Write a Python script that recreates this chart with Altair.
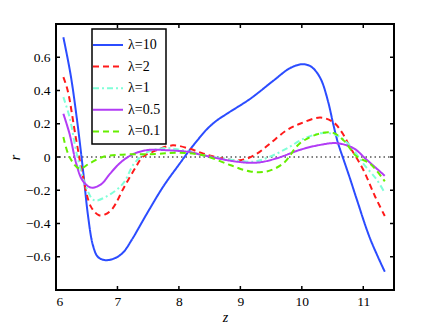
import altair as alt
import pandas as pd

series_names = ["λ=10", "λ=2", "λ=1", "λ=0.5", "λ=0.1"]
series_colors = ["#2b4cff", "#ff1a1a", "#7fffd8", "#b23cf5", "#66ee00"]
series_dash = [[1, 0], [6, 4], [6, 3, 2, 3], [1, 0], [6, 4]]

x_l10 = [6.12, 6.24, 6.35, 6.44, 6.52, 6.60, 6.68, 6.79, 6.95, 7.09, 7.23, 7.48, 7.75, 8.02, 8.13, 8.30, 8.45, 8.60, 8.78, 9.16, 9.54, 9.81, 10.00, 10.12, 10.22, 10.32, 10.43, 10.51, 10.59, 10.68, 10.78, 10.89, 11.11, 11.35]
y_l10 = [0.72, 0.49, 0.20, -0.08, -0.35, -0.53, -0.60, -0.62, -0.61, -0.575, -0.50, -0.34, -0.175, -0.036, 0.02, 0.10, 0.165, 0.215, 0.26, 0.35, 0.46, 0.535, 0.558, 0.55, 0.52, 0.46, 0.33, 0.20, 0.083, -0.016, -0.125, -0.25, -0.49, -0.69]

x_l2 = [6.12, 6.19, 6.33, 6.43, 6.57, 6.70, 6.80, 6.92, 7.11, 7.30, 7.41, 7.63, 7.90, 8.17, 8.40, 8.67, 9.02, 9.27, 9.48, 9.75, 9.97, 10.30, 10.51, 10.65, 10.78, 11.00, 11.19, 11.35]
y_l2 = [0.48, 0.40, 0.10, -0.10, -0.30, -0.35, -0.345, -0.31, -0.18, -0.06, 0.00, 0.04, 0.07, 0.05, 0.02, -0.006, -0.018, 0.02, 0.08, 0.16, 0.20, 0.237, 0.21, 0.15, 0.063, -0.077, -0.236, -0.355]

x_l1 = [6.12, 6.22, 6.35, 6.49, 6.62, 6.81, 7.09, 7.27, 7.46, 7.74, 8.00, 8.40, 8.67, 9.21, 9.48, 9.75, 10.03, 10.35, 10.57, 10.78, 11.00, 11.22, 11.35]
y_l1 = [0.36, 0.24, 0.00, -0.18, -0.26, -0.24, -0.16, -0.04, 0.024, 0.053, 0.045, 0.01, -0.006, -0.028, 0.002, 0.05, 0.11, 0.145, 0.13, 0.07, -0.04, -0.137, -0.216]

x_l05 = [6.12, 6.22, 6.33, 6.43, 6.57, 6.73, 6.88, 7.03, 7.17, 7.32, 7.52, 7.84, 8.17, 8.40, 8.94, 9.27, 9.59, 9.97, 10.30, 10.57, 10.84, 11.06, 11.35]
y_l05 = [0.26, 0.14, -0.04, -0.14, -0.184, -0.165, -0.10, -0.04, 0.00, 0.027, 0.043, 0.04, 0.03, 0.01, -0.028, -0.034, -0.008, 0.043, 0.073, 0.083, 0.053, -0.018, -0.113]

x_l01 = [6.12, 6.22, 6.38, 6.54, 6.76, 7.08, 7.63, 8.00, 8.40, 8.83, 9.16, 9.43, 9.70, 9.97, 10.30, 10.51, 10.68, 10.89, 11.11, 11.35]
y_l01 = [0.12, 0.00, -0.07, -0.04, 0.00, 0.014, 0.018, 0.026, 0.01, -0.048, -0.087, -0.087, -0.038, 0.083, 0.142, 0.145, 0.10, 0.004, -0.04, -0.147]

x_ticks = [6, 7, 8, 9, 10, 11]
y_ticks = [-0.6, -0.4, -0.2, 0, 0.2, 0.4, 0.6]

W, H = 338, 266
FONT = "Liberation Serif"

rows = []
for name, xs, ys in zip(series_names,
                        [x_l10, x_l2, x_l1, x_l05, x_l01],
                        [y_l10, y_l2, y_l1, y_l05, y_l01]):
    for i, (a, b) in enumerate(zip(xs, ys)):
        rows.append({"series": name, "z": a, "r": b, "i": i})
df = pd.DataFrame(rows)

xscale = alt.Scale(domain=[6, 11.5], nice=False, zero=False)
yscale = alt.Scale(domain=[-0.8, 0.8], nice=False, zero=False)

lines = alt.Chart(df).mark_line(strokeWidth=2, interpolate="catmull-rom", clip=True).encode(
    x=alt.X("z:Q", scale=xscale,
            axis=alt.Axis(values=x_ticks, tickSize=0, domain=False, grid=False,
                          labelPadding=4, title="z", titleFontStyle="italic",
                          titleFontWeight="normal", titlePadding=3, format="d")),
    y=alt.Y("r:Q", scale=yscale,
            axis=alt.Axis(values=y_ticks, tickSize=0, domain=False, grid=False,
                          labelPadding=6, title="r", titleFontStyle="italic",
                          titleFontWeight="normal", titlePadding=3,
                          labelExpr="datum.value == 0 ? '0' : replace(format(datum.value, '.1f'), '-', '\u2212')")),
    color=alt.Color("series:N", scale=alt.Scale(domain=series_names, range=series_colors),
                    sort=series_names, title=None),
    strokeDash=alt.StrokeDash("series:N", scale=alt.Scale(domain=series_names, range=series_dash),
                              sort=series_names, title=None),
    order="i:Q",
)

zero_df = pd.DataFrame({"r": [0]})
zero = alt.Chart(zero_df).mark_rule(color="black", strokeWidth=1.2, strokeDash=[1.5, 3]).encode(
    y=alt.Y("r:Q", scale=yscale)
)

xt = pd.DataFrame({"z": x_ticks})
yt = pd.DataFrame({"r": y_ticks})
tick_style = dict(color="black", strokeWidth=1.5)
xb = alt.Chart(xt).mark_rule(**tick_style).encode(x=alt.X("z:Q", scale=xscale), y=alt.value(H), y2=alt.value(H - 4))
xtop = alt.Chart(xt).mark_rule(**tick_style).encode(x=alt.X("z:Q", scale=xscale), y=alt.value(0), y2=alt.value(4))
yl = alt.Chart(yt).mark_rule(**tick_style).encode(y=alt.Y("r:Q", scale=yscale), x=alt.value(0), x2=alt.value(4))
yr = alt.Chart(yt).mark_rule(**tick_style).encode(y=alt.Y("r:Q", scale=yscale), x=alt.value(W), x2=alt.value(W - 4))

chart = alt.layer(zero, lines, xb, xtop, yl, yr).properties(
    width=W, height=H,
    autosize=alt.AutoSizeParams(type="none"),
    padding={"left": 48, "top": 16, "right": 34, "bottom": 38},
).configure(
    font=FONT
).configure_view(
    stroke="black", strokeWidth=2
).configure_axis(
    labelFont=FONT, titleFont=FONT, labelFontSize=13.5, titleFontSize=14,
    labelColor="black", titleColor="black"
).configure_legend(
    orient="none", legendX=36, legendY=5,
    strokeColor="black", strokeWidth=1.5, fillColor="white",
    padding=5, symbolType="M-1.5,0H1.5", symbolSize=400, symbolStrokeWidth=2,
    labelFont=FONT, labelFontSize=14, labelColor="black", labelOffset=9,
    rowPadding=3.6
)

chart.save("out.html", embed_options={"renderer": "svg", "actions": False})
